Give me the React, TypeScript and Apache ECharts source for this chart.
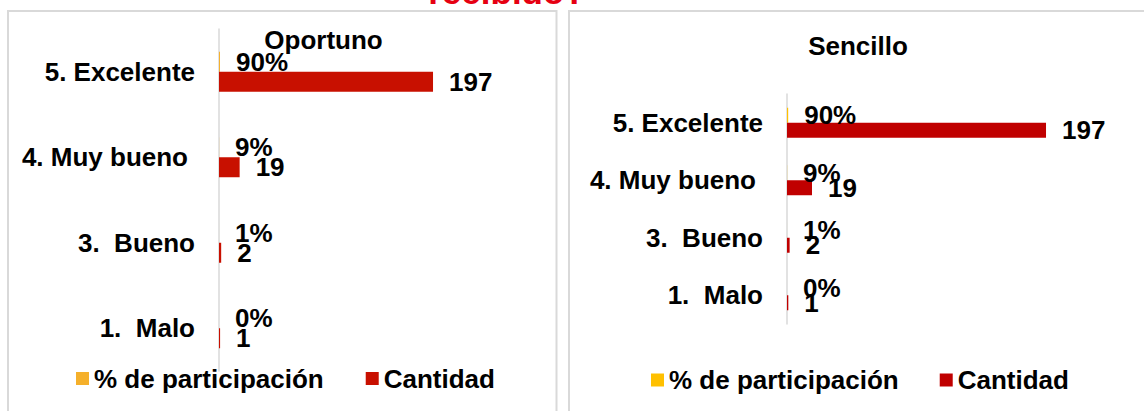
import React, { useEffect, useRef } from "react";
import * as echarts from "echarts";

const categories = ["1.  Malo", "3.  Bueno", "4. Muy bueno", "5. Excelente"];
const seriesNames = ["% de participación", "Cantidad"];
const oportunoPct = [0.0, 0.01, 0.09, 0.9];
const oportunoCantidad = [1, 2, 19, 197];
const sencilloPct = [0.0, 0.01, 0.09, 0.9];
const sencilloCantidad = [1, 2, 19, 197];
const mainTitle = "recibido?";
const leftTitle = "Oportuno";
const rightTitle = "Sencillo";

const FONT = "'Liberation Sans', Arial, Helvetica, sans-serif";
const FS = 26;

const txt = {
  color: "#000",
  fontFamily: FONT,
  fontWeight: "bold" as const,
  fontSize: FS,
};

function catAxis(gridIndex: number) {
  return {
    type: "category" as const,
    gridIndex,
    data: categories,
    axisLine: { show: true, lineStyle: { color: "#D9D9D9", width: 1.5 } },
    axisTick: { show: false },
    splitLine: { show: false },
    axisLabel: {
      margin: 24,
      ...txt,
      formatter: (v: string) => (v === "4. Muy bueno" ? `{m|${v}}` : `{n|${v}}`),
      rich: {
        m: { ...txt, padding: [0, 7, 0, 0] },
        n: { ...txt },
      },
    },
  };
}

function valAxis(gridIndex: number) {
  return {
    type: "value" as const,
    gridIndex,
    min: 0,
    max: 250,
    show: false,
    splitLine: { show: false },
  };
}

function barSeries(
  name: string,
  data: number[],
  idx: number,
  color: string,
  width: number,
  isPct: boolean
) {
  return {
    name,
    type: "bar" as const,
    xAxisIndex: idx,
    yAxisIndex: idx,
    data,
    barWidth: width,
    barGap: "0%",
    itemStyle: { color },
    label: {
      show: true,
      position: "right" as const,
      distance: 16,
      ...txt,
      formatter: (p: any) => (isPct ? `${Math.round(p.value * 100)}%` : `${p.value}`),
    },
  };
}

export default function App() {
  const ref = useRef<HTMLDivElement>(null);
  useEffect(() => {
    if (!ref.current) return;
    const chart = echarts.init(ref.current, undefined, { renderer: "svg" });
    chart.setOption({
      animation: false,
      backgroundColor: "#fff",
      grid: [
        { left: 219, top: 29, width: 271.6, height: 342, outerBoundsMode: "none" },
        { left: 787, top: 94, width: 328.7, height: 230, outerBoundsMode: "none" },
      ],
      xAxis: [valAxis(0), valAxis(1)],
      yAxis: [catAxis(0), catAxis(1)],
      legend: [
        {
          left: 76,
          top: 365.5,
          padding: 0,
          itemWidth: 13,
          itemHeight: 13,
          itemGap: 42,
          icon: "rect",
          selectedMode: false,
          textStyle: { ...txt, lineHeight: 26 },
          data: [
            { name: seriesNames[0], itemStyle: { color: "#F5B02B" } },
            { name: seriesNames[1], itemStyle: { color: "#C81000" } },
          ],
        },
        {
          left: 651,
          top: 367,
          padding: 0,
          itemWidth: 13,
          itemHeight: 13,
          itemGap: 41,
          icon: "rect",
          selectedMode: false,
          textStyle: { ...txt, lineHeight: 26 },
          data: [
            { name: seriesNames[0], itemStyle: { color: "#FFC000" } },
            { name: seriesNames[1], itemStyle: { color: "#C00000" } },
          ],
        },
      ],
      graphic: [
        {
          type: "rect",
          silent: true,
          z: -10,
          shape: { x: 8, y: 11, width: 548.5, height: 430 },
          style: { fill: "none", stroke: "#D9D9D9", lineWidth: 2 },
        },
        {
          type: "rect",
          silent: true,
          z: -10,
          shape: { x: 569, y: 11, width: 620, height: 430 },
          style: { fill: "none", stroke: "#D9D9D9", lineWidth: 2 },
        },
        {
          type: "text",
          x: 507,
          y: -8.5,
          style: {
            text: mainTitle,
            align: "center",
            verticalAlign: "middle",
            fill: "#E60012",
            fontFamily: FONT,
            fontWeight: "bold",
            fontSize: 35,
          },
        },
        {
          type: "text",
          x: 323.5,
          y: 40,
          style: {
            text: leftTitle,
            align: "center",
            verticalAlign: "middle",
            fill: "#000",
            fontFamily: FONT,
            fontWeight: "bold",
            fontSize: FS,
          },
        },
        {
          type: "text",
          x: 858,
          y: 46,
          style: {
            text: rightTitle,
            align: "center",
            verticalAlign: "middle",
            fill: "#000",
            fontFamily: FONT,
            fontWeight: "bold",
            fontSize: FS,
          },
        },
      ],
      series: [
        barSeries(seriesNames[0], oportunoPct, 0, "#F5B02B", 20, true),
        barSeries(seriesNames[1], oportunoCantidad, 0, "#C81000", 20, false),
        barSeries(seriesNames[0], sencilloPct, 1, "#FFC000", 15, true),
        barSeries(seriesNames[1], sencilloCantidad, 1, "#C00000", 15, false),
      ],
    });
    return () => chart.dispose();
  }, []);
  return (
    <div
      ref={ref}
      style={{ position: "fixed", left: 0, top: 0, width: 1144, height: 411, background: "#fff" }}
    />
  );
}
